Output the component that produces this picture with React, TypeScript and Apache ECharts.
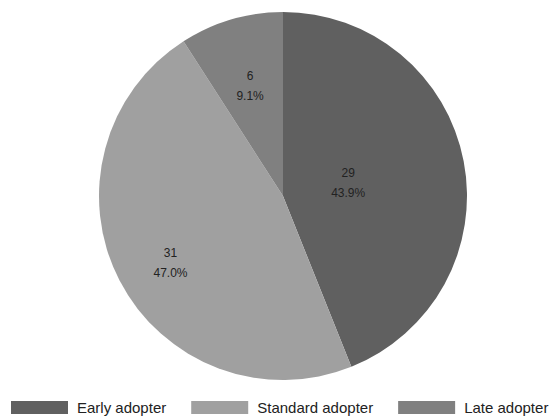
import React, { useEffect, useRef } from "react";
import * as echarts from "echarts";

const categories = ["Early adopter", "Standard adopter", "Late adopter"];
const values = [29, 31, 6];
const colors = ["#606060", "#a0a0a0", "#808080"];
// radial placement of each slice label relative to ECharts' default inside position
const labelRadiusScale = [0.72, 1.38, 1.23];
const labelShift = [
  [-2, 0],
  [4, 7],
  [0, 2],
];

const FONT = "'Liberation Sans', Arial, Helvetica, sans-serif";

export default function App() {
  const ref = useRef<HTMLDivElement>(null);

  useEffect(() => {
    document.body.style.margin = "0";
    if (!ref.current) return;
    const chart = echarts.init(ref.current, undefined, { renderer: "svg" });
    const total = values.reduce((a, b) => a + b, 0);
    const cx = 283;
    const cy = 196;
    chart.setOption({
      animation: false,
      backgroundColor: "#ffffff",
      legend: {
        data: categories,
        left: 11,
        top: 400,
        padding: 0,
        itemWidth: 57,
        itemHeight: 13,
        itemGap: 25,
        icon: "rect",
        textStyle: {
          fontFamily: FONT,
          fontSize: 15,
          color: "#222222",
          padding: [0, 0, 0, 4],
        },
      },
      series: [
        {
          type: "pie",
          center: [cx, cy],
          radius: 184,
          startAngle: 90,
          clockwise: true,
          avoidLabelOverlap: false,
          itemStyle: { borderWidth: 0 },
          emphasis: { disabled: true },
          label: {
            show: true,
            position: "inside",
            fontFamily: FONT,
            fontSize: 12,
            lineHeight: 20,
            color: "#222222",
            formatter: (p: any) =>
              `${p.value}\n${((p.value / total) * 100).toFixed(1)}%`,
          },
          labelLayout: (params: any) => {
            const r = params.labelRect;
            const mx = r.x + r.width / 2;
            const my = r.y + r.height / 2;
            const i = params.dataIndex;
            const k = labelRadiusScale[i] ?? 1;
            const s = labelShift[i] ?? [0, 0];
            return {
              dx: (mx - cx) * (k - 1) + s[0],
              dy: (my - cy) * (k - 1) + s[1],
            };
          },
          data: categories.map((name, i) => ({
            name,
            value: values[i],
            itemStyle: { color: colors[i] },
          })),
        },
      ],
    });
    return () => chart.dispose();
  }, []);

  return <div ref={ref} style={{ width: 552, height: 417 }} />;
}
